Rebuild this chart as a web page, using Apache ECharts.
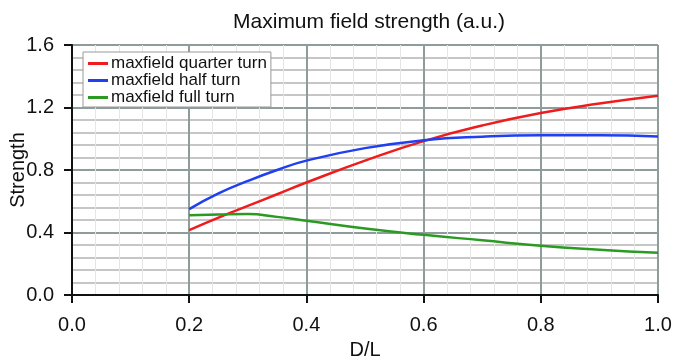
<!DOCTYPE html>
<html><head><meta charset="utf-8">
<script src="https://cdn.jsdelivr.net/npm/echarts@6/dist/echarts.min.js"></script>
<style>html,body{margin:0;padding:0;background:#fff}#c{width:675px;height:363px}</style>
</head><body><div id="c"></div>
<script>
const xs = [0.2, 0.25, 0.3, 0.35, 0.4, 0.5, 0.6, 0.7, 0.8, 0.9, 1.0];
const quarter = [0.415, 0.495, 0.57, 0.645, 0.72, 0.86, 0.985, 1.085, 1.165, 1.225, 1.275];
const half =    [0.55, 0.65, 0.73, 0.80, 0.86, 0.94, 0.99, 1.013, 1.022, 1.022, 1.015];
const full =    [0.51, 0.515, 0.518, 0.50, 0.475, 0.425, 0.385, 0.35, 0.315, 0.29, 0.27];
const seriesNames = ['maxfield quarter turn', 'maxfield half turn', 'maxfield full turn'];
const colors = ['#ee1c1c', '#1f3ff0', '#2a9a22'];
const font = 'Liberation Sans, Arial, sans-serif';
const chart = echarts.init(document.getElementById('c'));
const mk = (arr) => xs.map((x, i) => [x, arr[i]]);
chart.setOption({
  animation: false,
  title: { text: 'Maximum field strength (a.u.)', left: 364, top: 7, textAlign: 'center',
    textStyle: { fontFamily: font, fontSize: 21, fontWeight: 'normal', color: '#111' } },
  grid: { left: 72, right: 17, top: 45, bottom: 68, show: true, borderColor: '#c8c8c8', borderWidth: 1,
    containLabel: false, outerBoundsMode: 'none' },
  legend: {
    orient: 'vertical', left: 83, top: 52, itemGap: 0, padding: [3, 4, 1, 5],
    backgroundColor: '#fff', borderColor: '#999', borderWidth: 1,
    icon: 'rect', itemWidth: 20, itemHeight: 3,
    textStyle: { fontFamily: font, fontSize: 17, lineHeight: 17, color: '#111', padding: [0, 0, 0, -2] },
    data: seriesNames
  },
  xAxis: {
    type: 'value', min: 0, max: 1, interval: 0.2, name: 'D/L', nameLocation: 'middle', nameGap: 45,
    nameMoveOverlap: false,
    nameTextStyle: { fontFamily: font, fontSize: 20, color: '#111' },
    axisLine: { lineStyle: { color: '#111', width: 2 } },
    axisTick: { show: true, length: 8, lineStyle: { color: '#111', width: 2 } },
    axisLabel: { fontFamily: font, fontSize: 20, color: '#111', margin: 20, formatter: v => v.toFixed(1) },
    splitLine: { show: true, lineStyle: { color: '#8e9c9c', width: 2 } },
    minorTick: { show: false, splitNumber: 5 },
    minorSplitLine: { show: true, lineStyle: { color: '#e6e6e6', width: 1 } }
  },
  yAxis: {
    type: 'value', min: 0, max: 1.6, interval: 0.4, name: 'Strength', nameLocation: 'middle', nameGap: 44,
    nameMoveOverlap: false,
    nameTextStyle: { fontFamily: font, fontSize: 20, color: '#111' },
    axisLine: { show: true, lineStyle: { color: '#111', width: 2 } },
    axisTick: { show: true, length: 8, lineStyle: { color: '#111', width: 2 } },
    axisLabel: { fontFamily: font, fontSize: 20, color: '#111', margin: 18, formatter: v => v.toFixed(1) },
    splitLine: { show: true, lineStyle: { color: '#8e9c9c', width: 2 } },
    minorTick: { show: false, splitNumber: 5 },
    minorSplitLine: { show: true, lineStyle: { color: '#b4b4b4', width: 1.5 } }
  },
  series: [quarter, half, full].map((arr, i) => ({
    name: seriesNames[i], type: 'line', data: mk(arr), smooth: true, showSymbol: false,
    lineStyle: { color: colors[i], width: 2.5 }, itemStyle: { color: colors[i] }
  }))
});
</script></body></html>
